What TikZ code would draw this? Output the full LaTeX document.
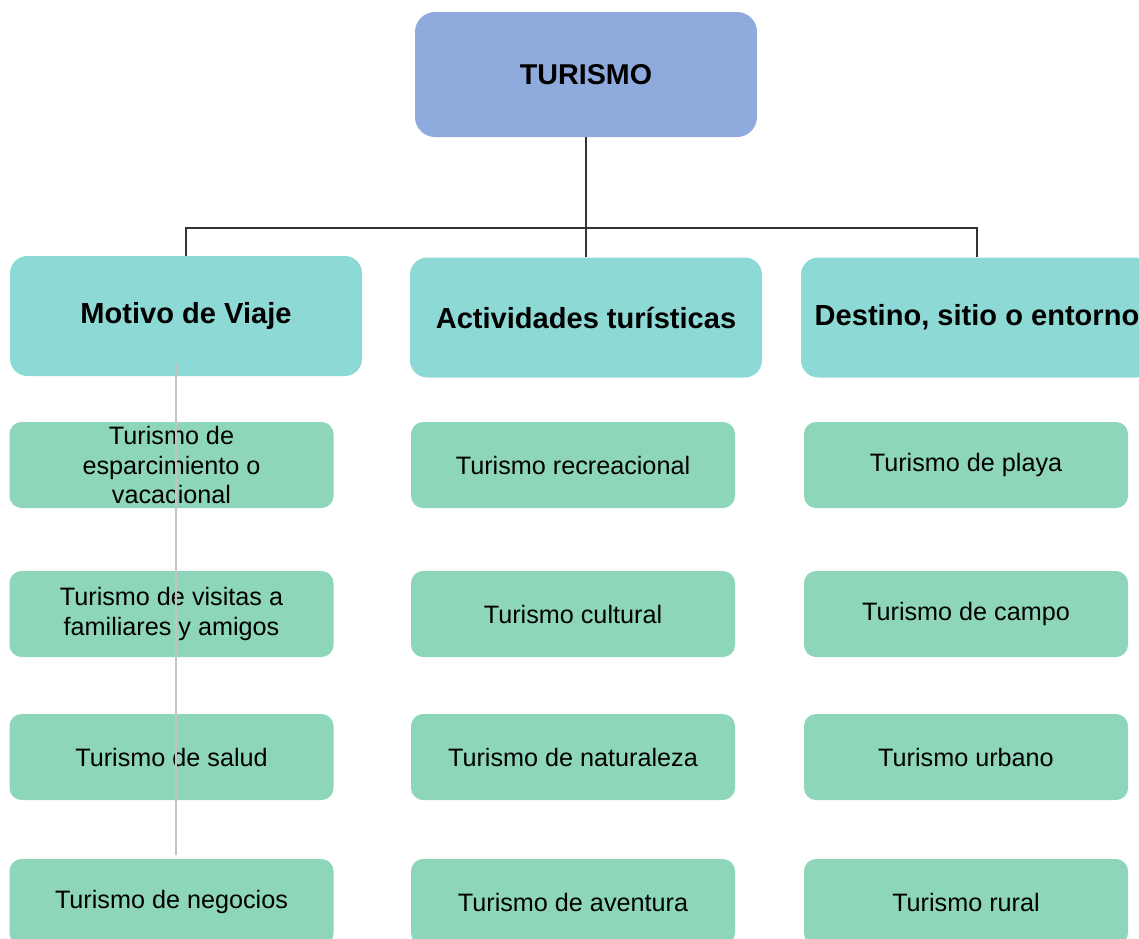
\documentclass[tikz,border=0pt]{standalone}
\usepackage{fontspec}
\setmainfont{Liberation Sans}
\usepackage{tikz}
\usetikzlibrary{positioning,calc}

\definecolor{rootblue}{HTML}{8FAADC}
\definecolor{catteal}{HTML}{8DD9D5}
\definecolor{subgreen}{HTML}{8DD6BA}
\definecolor{linegray}{HTML}{C4C4C4}

\tikzset{
  root/.style={fill=rootblue, rounded corners=15pt, minimum width=256.5pt,
    minimum height=93.75pt, font=\fontsize{21.5}{25}\selectfont\bfseries},
  cat/.style={fill=catteal, rounded corners=13pt, minimum width=264pt,
    minimum height=90pt, font=\fontsize{21.8}{25}\selectfont\bfseries},
  sub/.style={fill=subgreen, rounded corners=9pt, minimum width=243pt,
    minimum height=64.5pt, align=center, font=\fontsize{18.9}{21.8}\selectfont},
  link/.style={draw=black!80, line width=1pt}
}

\begin{document}
\begin{tikzpicture}[x=0.75pt,y=-0.75pt]

  \clip (0,0) rectangle (1139,939);

  \node[root] (turismo) at (586,74.5) {TURISMO};

  \node[cat] (motivo) at (186,316) {Motivo de Viaje};
  \node[cat] (activ) at (586,317.5) {Actividades turísticas};
  \node[cat] (destino) at (977,317.5) {Destino, sitio o entorno};

  \node[sub] (m1) at (171.5,465) {Turismo de\\esparcimiento o\\vacacional};
  \node[sub] (m2) at (171.5,614) {Turismo de visitas a\\familiares y amigos};
  \node[sub] (m3) at (171.5,757) {Turismo de salud};
  \node[sub] (m4) at (171.5,902) {Turismo de negocios};

  \node[sub] (a1) at (573,465) {Turismo recreacional};
  \node[sub] (a2) at (573,614) {Turismo cultural};
  \node[sub] (a3) at (573,757) {Turismo de naturaleza};
  \node[sub] (a4) at (573,902) {Turismo de aventura};

  \node[sub] (d1) at (966,465) {Turismo de playa};
  \node[sub] (d2) at (966,614) {Turismo de campo};
  \node[sub] (d3) at (966,757) {Turismo urbano};
  \node[sub] (d4) at (966,902) {Turismo rural};

  \coordinate (bus) at (586,228);
  \path[link] (turismo.south) -- (bus);
  \path[link] (bus) -| (motivo.north);
  \path[link] (bus) -| (destino.north);
  \path[link] (bus) -- (activ.north);

  \coordinate (g0) at (176,363);
  \coordinate (g1) at (176,855);
  \draw[linegray, line width=1.1pt] (g0) -- (g1);

\end{tikzpicture}
\end{document}
